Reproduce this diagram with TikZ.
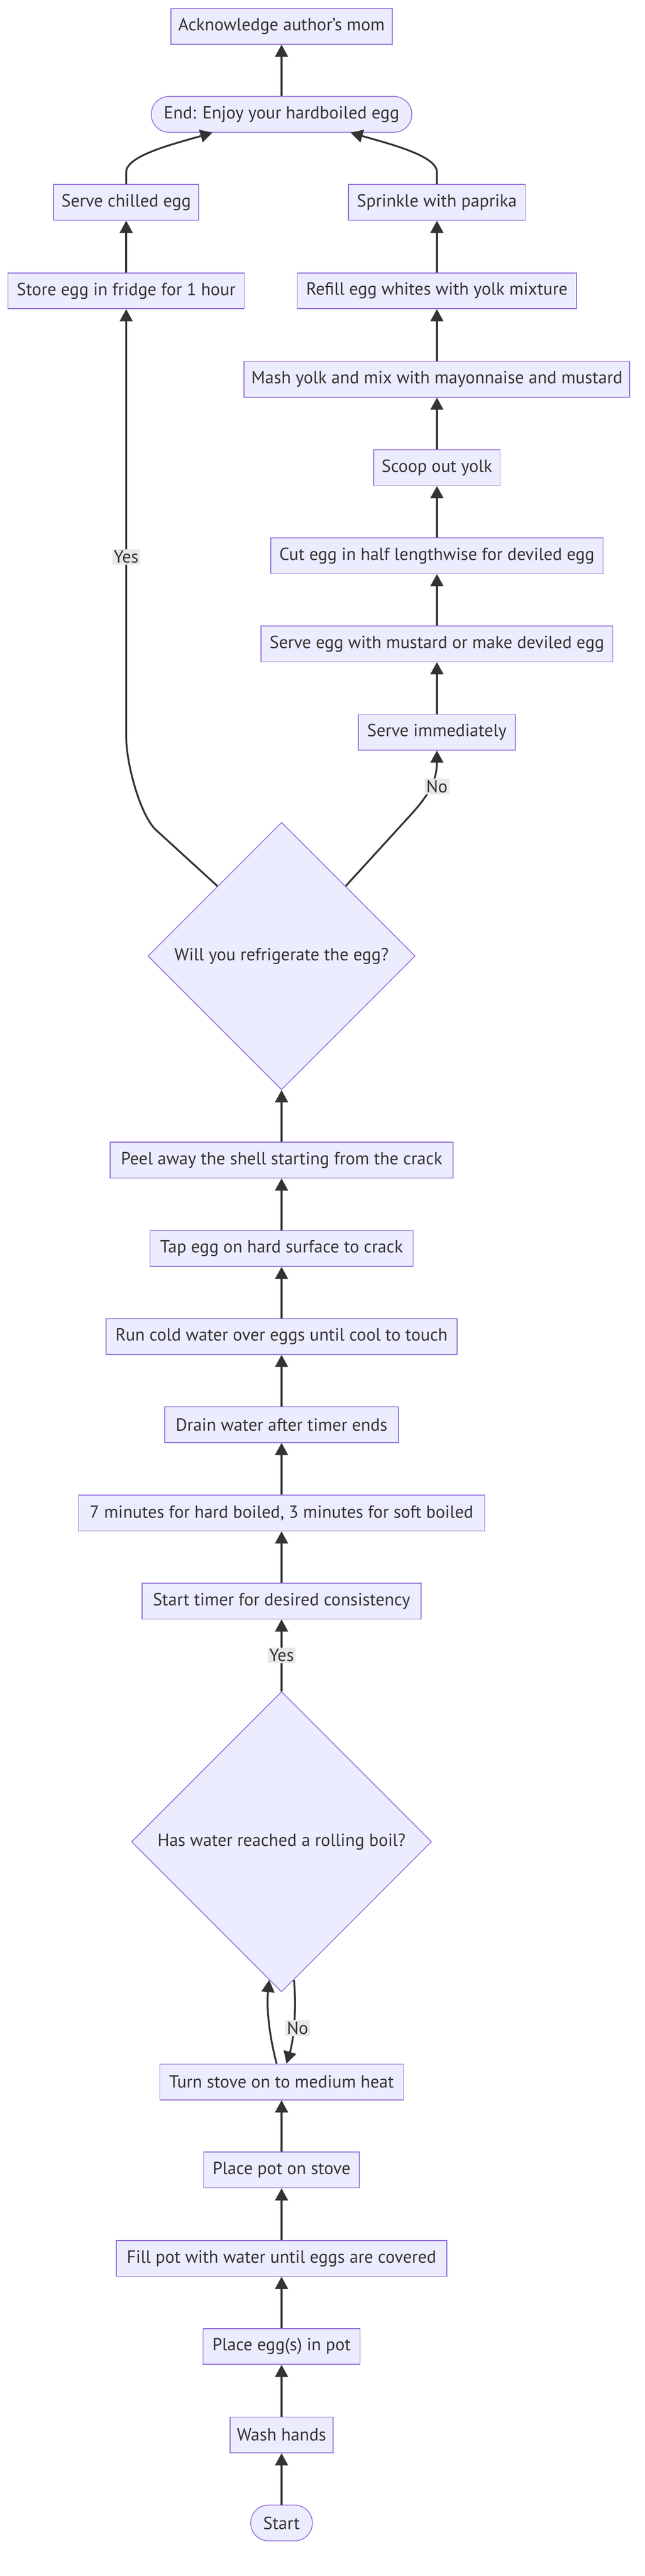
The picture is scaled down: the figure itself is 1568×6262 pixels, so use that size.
\documentclass[tikz,border=0pt]{standalone}
\usepackage{fontspec}
\setmainfont{PT Sans}
\usetikzlibrary{arrows.meta,shapes.geometric,calc}
\definecolor{boxfill}{HTML}{ECECFF}
\definecolor{boxline}{HTML}{9370DB}
\definecolor{inkline}{HTML}{333333}
\definecolor{tagfill}{HTML}{E8E8E8}
\tikzset{
  stepbox/.style={draw=boxline, fill=boxfill, line width=0.5pt, minimum height=21.75pt,
    inner sep=0pt, text=inkline, font=\fontsize{10.7}{13}\selectfont},
  termbox/.style={stepbox, rounded corners=10.8pt},
  askbox/.style={stepbox, diamond, aspect=1},
  flow/.style={draw=inkline, line width=1.1pt, -{Triangle[length=7.4pt,width=7.8pt]}},
  tag/.style={fill=tagfill, text=inkline, inner sep=1pt, font=\fontsize{10.7}{13}\selectfont}
}
\begin{document}
\begin{tikzpicture}[x=0.25pt,y=-0.25pt]
    \fill[white] (0,0) rectangle (1568,6262);
    % top: the two ways of serving
    \node[stepbox, minimum width=134.75pt] (ack) at (685,64) {Acknowledge author's mom};
    \node[termbox, minimum width=158.5pt] (end) at (685,278) {End: Enjoy your hardboiled egg};
    \node[stepbox, minimum width=88.25pt] (chilled) at (307,492) {Serve chilled egg};
    \node[stepbox, minimum width=107.5pt] (paprika) at (1063,492) {Sprinkle with paprika};
    \node[stepbox, minimum width=143.75pt] (fridge) at (307,707) {Store egg in fridge for 1 hour};
    \node[stepbox, minimum width=170pt] (refill) at (1063,707) {Refill egg whites with yolk mixture};
    \node[stepbox, minimum width=234.5pt] (mash) at (1063,922) {Mash yolk and mix with mayonnaise and mustard};
    \node[stepbox, minimum width=76.75pt] (scoop) at (1063,1137) {Scoop out yolk};
    \node[stepbox, minimum width=202pt] (cut) at (1063,1351) {Cut egg in half lengthwise for deviled egg};
    \node[stepbox, minimum width=214pt] (mustard) at (1063,1565) {Serve egg with mustard or make deviled egg};
    \node[stepbox, minimum width=95.5pt] (now) at (1063,1780) {Serve immediately};
    \node[askbox, minimum width=162.5pt, minimum height=162.5pt] (cool) at (685,2324) {Will you refrigerate the egg?};
    % middle: cooling and peeling
    \node[stepbox, minimum width=208.5pt] (peel) at (685,2820) {Peel away the shell starting from the crack};
    \node[stepbox, minimum width=160pt] (tap) at (685,3035) {Tap egg on hard surface to crack};
    \node[stepbox, minimum width=213.5pt] (rinse) at (685,3249) {Run cold water over eggs until cool to touch};
    \node[stepbox, minimum width=142pt] (drain) at (685,3463) {Drain water after timer ends};
    \node[stepbox, minimum width=247pt] (minutes) at (685,3678) {7 minutes for hard boiled, 3 minutes for soft boiled};
    \node[stepbox, minimum width=169.75pt] (timer) at (685,3892) {Start timer for desired consistency};
    \node[askbox, minimum width=182.5pt, minimum height=182.5pt] (boil) at (685,4477) {Has water reached a rolling boil?};
    % bottom: getting started
    \node[stepbox, minimum width=148pt] (stove) at (685,5061) {Turn stove on to medium heat};
    \node[stepbox, minimum width=94.75pt] (pot) at (685,5275) {Place pot on stove};
    \node[stepbox, minimum width=201pt] (water) at (685,5490) {Fill pot with water until eggs are covered};
    \node[stepbox, minimum width=95.5pt] (eggs) at (685,5704) {Place egg(s) in pot};
    \node[stepbox, minimum width=62.75pt] (wash) at (685,5919) {Wash hands};
    \node[termbox, minimum width=37.5pt] (start) at (685,6133) {Start};

    \draw[flow] (start) -- (wash);
    \draw[flow] (wash) -- (eggs);
    \draw[flow] (eggs) -- (water);
    \draw[flow] (water) -- (pot);
    \draw[flow] (pot) -- (stove);
    \draw[flow] ([xshift=-3pt]stove.north) .. controls +(-18,-68) and +(-7,68) .. ($(boil.south)+(-30,-30)$);
    \draw[flow] ($(boil.south)+(30,-30)$) .. controls +(7,68) and +(18,-60) .. ([xshift=3pt]stove.north);
    \node[tag] (no1) at (724,4930) {No};
    \draw[flow] (boil) -- node[tag] {Yes} (timer);
    \draw[flow] (timer) -- (minutes);
    \draw[flow] (minutes) -- (drain);
    \draw[flow] (drain) -- (rinse);
    \draw[flow] (rinse) -- (tap);
    \draw[flow] (tap) -- (peel);
    \draw[flow] (peel) -- (cool);
    \coordinate (coolyes) at ($(cool.north)+(-156,156)$);
    \coordinate (coolno) at ($(cool.north)+(156,156)$);
    \draw[flow] (coolyes) -- (380,2018) .. controls (343,1985) and (307,1860) .. (307,1790) -- node[tag, pos=0.42] {Yes} (fridge);
    \draw[flow] (coolno) -- (1000,1980) .. controls (1040,1936) and (1063,1900) .. (now);
    \node[tag] (no2) at (1063,1912) {No};
    \draw[flow] (now) -- (mustard);
    \draw[flow] (mustard) -- (cut);
    \draw[flow] (cut) -- (scoop);
    \draw[flow] (scoop) -- (mash);
    \draw[flow] (mash) -- (refill);
    \draw[flow] (refill) -- (paprika);
    \draw[flow] (fridge) -- (chilled);
    \draw[flow] (chilled.north) -- ++(0,-29) .. controls +(0,-40) and +(-97,28) .. ($(end.south)+(-168,0)$);
    \draw[flow] (paprika.north) -- ++(0,-29) .. controls +(0,-40) and +(97,28) .. ($(end.south)+(168,0)$);
    \draw[flow] (end) -- (ack);
\end{tikzpicture}
\end{document}
